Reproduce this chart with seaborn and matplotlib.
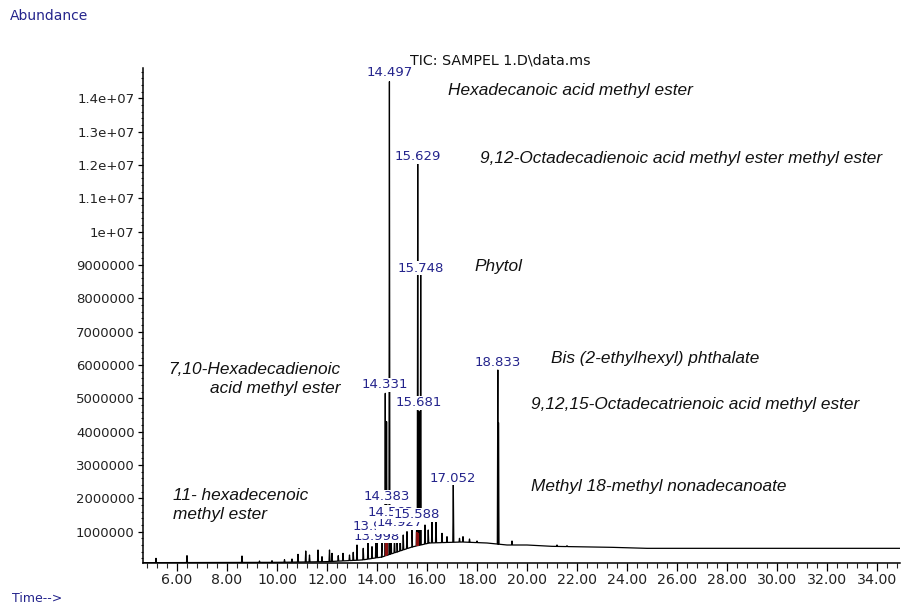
import numpy as np
import pandas as pd
import matplotlib
matplotlib.use("Agg")
import matplotlib.pyplot as plt
import seaborn as sns
from matplotlib.ticker import MultipleLocator, FixedLocator, FixedFormatter

# ---- chromatogram data (retention time in min, abundance in counts) ----
base_time = [4.64, 10.0, 12.0, 13.4, 14.2, 14.8, 15.4, 16.1, 17.4, 18.4,
             19.2, 20.0, 21.0, 23.4, 24.8, 35.0]
base_abund = [0.07e6, 0.08e6, 0.10e6, 0.15e6, 0.24e6, 0.39e6, 0.54e6, 0.66e6,
              0.69e6, 0.66e6, 0.60e6, 0.60e6, 0.56e6, 0.53e6, 0.50e6, 0.50e6]

peak_time = [5.16, 6.40, 8.60, 9.30, 9.80, 10.30, 10.60, 10.84, 11.15, 11.30,
             11.64, 11.80, 12.10, 12.20, 12.45, 12.64, 12.90, 13.05, 13.20,
             13.45, 13.64, 13.80, 13.958, 13.998, 14.20, 14.331, 14.383,
             14.497, 14.563, 14.70, 14.80, 14.927, 15.05, 15.20, 15.40, 15.588,
             15.629, 15.681, 15.748, 15.92, 16.05, 16.20, 16.36, 16.60, 16.80,
             17.052, 17.30, 17.44, 17.70, 18.00, 18.833, 18.86, 19.40, 21.20,
             21.60]
peak_abund = [0.20e6, 0.28e6, 0.27e6, 0.12e6, 0.13e6, 0.16e6, 0.18e6, 0.32e6,
              0.42e6, 0.30e6, 0.45e6, 0.25e6, 0.45e6, 0.35e6, 0.28e6, 0.35e6,
              0.30e6, 0.38e6, 0.60e6, 0.50e6, 0.80e6, 0.55e6, 1.00e6, 1.02e6,
              0.70e6, 5.15e6, 4.30e6, 14.5e6, 1.00e6, 0.85e6, 0.95e6, 0.95e6,
              0.90e6, 1.00e6, 1.10e6, 1.30e6, 12.05e6, 4.60e6, 8.70e6, 1.20e6,
              1.05e6, 1.30e6, 1.50e6, 0.95e6, 0.85e6, 2.40e6, 0.80e6, 0.85e6,
              0.78e6, 0.72e6, 5.85e6, 4.27e6, 0.72e6, 0.60e6, 0.58e6]

# integration marks (red) under the main peak clusters
mark_time = [14.36, 14.40, 15.60, 15.66]
mark_abund = [0.85e6, 0.80e6, 1.00e6, 0.95e6]

# labelled retention times and the height of each label
label_rt = ["13.998", "13.958", "14.927", "14.563", "15.588", "14.383",
            "17.052", "15.681", "14.331", "18.833", "15.748", "15.629",
            "14.497"]
label_abund = [0.87e6, 1.14e6, 1.26e6, 1.59e6, 1.50e6, 2.04e6, 2.61e6,
               4.86e6, 5.40e6, 6.09e6, 8.91e6, 12.24e6, 14.76e6]

y_ticks = [1e6, 2e6, 3e6, 4e6, 5e6, 6e6, 7e6, 8e6, 9e6, 1e7, 1.1e7, 1.2e7,
           1.3e7, 1.4e7]
y_tick_labels = ["1000000", "2000000", "3000000", "4000000", "5000000",
                 "6000000", "7000000", "8000000", "9000000", "1e+07",
                 "1.1e+07", "1.2e+07", "1.3e+07", "1.4e+07"]
x_ticks = list(range(6, 35, 2))
x_tick_labels = [f"{v:.2f}" for v in x_ticks]

compound_names = [
    "Hexadecanoic acid methyl ester",
    "9,12-Octadecadienoic acid methyl ester methyl ester",
    "Phytol",
    "Bis (2-ethylhexyl) phthalate",
    "9,12,15-Octadecatrienoic acid methyl ester",
    "Methyl 18-methyl nonadecanoate",
    "7,10-Hexadecadienoic\nacid methyl ester",
    "11- hexadecenoic\nmethyl ester",
]

# ---- build the trace: baseline with narrow peaks on top ----
half_width = 0.02
t_pts = list(base_time)
y_pts = list(base_abund)
for rt, h in zip(peak_time, peak_abund):
    for t in (rt - half_width, rt + half_width):
        t_pts.append(t)
        y_pts.append(float(np.interp(t, base_time, base_abund)))
    t_pts.append(rt)
    y_pts.append(h)
trace = pd.DataFrame({"time": t_pts, "abundance": y_pts}).sort_values("time")

# ---- figure ----
sns.set_theme(style="white")
plt.rcParams["font.family"] = ["DejaVu Sans"]
W, H = 902, 605
fig = plt.figure(figsize=(W / 100, H / 100), dpi=100)
ax = fig.add_axes([143 / W, 1 - 563 / H, (900 - 143) / W, (563 - 68) / H])

sns.lineplot(data=trace, x="time", y="abundance", sort=False, estimator=None,
             color="black", linewidth=0.9, ax=ax, zorder=3)

base_at_marks = np.interp(mark_time, base_time, base_abund)
ax.vlines(mark_time, base_at_marks, mark_abund, color="#8b1010",
          linewidth=1.6, zorder=4)

ax.set_xlim(4.64, 34.92)
ax.set_ylim(0.06e6, 14.91e6)
ax.set_xlabel("")
ax.set_ylabel("")

for s in ("top", "right"):
    ax.spines[s].set_visible(False)
for s in ("left", "bottom"):
    ax.spines[s].set_color("black")
    ax.spines[s].set_linewidth(1.1)

ax.yaxis.set_major_locator(FixedLocator(y_ticks))
ax.yaxis.set_major_formatter(FixedFormatter(y_tick_labels))
ax.yaxis.set_minor_locator(MultipleLocator(0.2e6))
ax.xaxis.set_major_locator(FixedLocator(x_ticks))
ax.xaxis.set_major_formatter(FixedFormatter(x_tick_labels))
ax.xaxis.set_minor_locator(MultipleLocator(0.4))

ax.tick_params(axis="y", which="major", direction="out", length=3.5,
               width=0.9, pad=2.5, labelsize=9.5, colors="black",
               left=True)
ax.tick_params(axis="y", which="minor", direction="out", length=1.8,
               width=0.8, left=True)
ax.tick_params(axis="x", which="major", direction="out", length=6,
               width=0.9, pad=1.5, labelsize=10.2, colors="black",
               bottom=True)
ax.tick_params(axis="x", which="minor", direction="out", length=3.5,
               width=0.8, bottom=True)
for lab in ax.get_yticklabels() + ax.get_xticklabels():
    lab.set_color("#222222")

# peak retention-time labels on white boxes
for i, (txt, ya) in enumerate(zip(label_rt, label_abund)):
    ax.text(float(txt), ya, txt, ha="center", va="center", fontsize=9.5,
            color="#24248c", zorder=5 + i,
            bbox=dict(facecolor="white", edgecolor="none", pad=0.6))

# compound names
ital = dict(family=["Liberation Sans", "DejaVu Sans"], style="italic",
            fontsize=12.4, color="#111111", va="center")
name_pos = [(448, 90, "left"), (480, 158, "left"), (474, 267, "left"),
            (551, 358, "left"), (531, 404, "left"), (531, 486, "left"),
            (340, 379, "right"), (173, 505, "left")]
for name, (px, py, ha) in zip(compound_names, name_pos):
    fig.text(px / W, 1 - py / H, name, ha=ha, multialignment=ha,
             linespacing=1.35, **ital)

fig.text(500 / W, 1 - 60 / H, "TIC: SAMPEL 1.D\\data.ms", ha="center",
         va="center", fontsize=10.3, color="#111111")
fig.text(10 / W, 1 - 16 / H, "Abundance", ha="left", va="center",
         fontsize=10, color="#24248c")
fig.text(12 / W, 1 - 598 / H, "Time-->", ha="left", va="center",
         fontsize=9, color="#24248c")

fig.savefig("out.png", dpi=100)
